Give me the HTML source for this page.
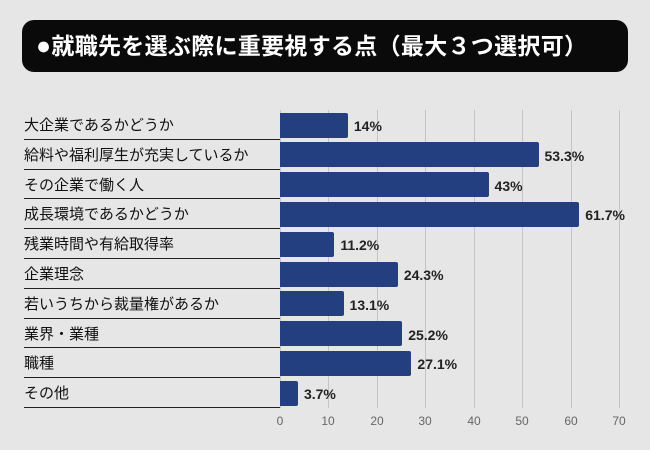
<!DOCTYPE html><html><head><meta charset="utf-8"><style>
body{margin:0;width:650px;height:450px;background:#e6e6e6;font-family:"Liberation Sans","Noto Sans CJK JP",sans-serif;position:relative;overflow:hidden}
.t{position:absolute;left:22px;top:20px;width:606px;height:52px;background:#0a0a0a;border-radius:12px;color:#fff;font-weight:bold;font-size:23px;line-height:52px;padding-left:14px;box-sizing:border-box;letter-spacing:0.3px}
.t b{font-size:25px}
.g{position:absolute;top:110px;height:298px;width:1px;background:#c4c4c4}
.row{position:absolute;left:24px;width:256px;height:29.8px;border-bottom:1px solid #222;font-size:15px;line-height:33px;color:#111}
.bar{position:absolute;left:280px;height:25px;background:#243f80;border-radius:0 2px 2px 0}
.v{position:absolute;font-size:14px;color:#222;line-height:27px;font-weight:600}
.tk{position:absolute;top:414px;font-size:12px;color:#666;width:30px;text-align:center;margin-left:-15px}
</style></head><body>
<div class="t"><b>●</b>就職先を選ぶ際に重要視する点（最大３つ選択可）</div>
<div class="g" style="left:280px"></div><div class="g" style="left:328px"></div><div class="g" style="left:377px"></div><div class="g" style="left:425px"></div><div class="g" style="left:474px"></div><div class="g" style="left:522px"></div><div class="g" style="left:571px"></div><div class="g" style="left:619px"></div>
<div class="tk" style="left:280px">0</div><div class="tk" style="left:328px">10</div><div class="tk" style="left:377px">20</div><div class="tk" style="left:425px">30</div><div class="tk" style="left:474px">40</div><div class="tk" style="left:522px">50</div><div class="tk" style="left:571px">60</div><div class="tk" style="left:619px">70</div>
<div id="c"></div>
<script>
var d=[["大企業であるかどうか",14,"14%"],["給料や福利厚生が充実しているか",53.3,"53.3%"],["その企業で働く人",43,"43%"],["成長環境であるかどうか",61.7,"61.7%"],["残業時間や有給取得率",11.2,"11.2%"],["企業理念",24.3,"24.3%"],["若いうちから裁量権があるか",13.1,"13.1%"],["業界・業種",25.2,"25.2%"],["職種",27.1,"27.1%"],["その他",3.7,"3.7%"]];
var h="";d.forEach(function(r,i){var y=109+i*29.8;var w=r[1]*4.85;
h+='<div class="row" style="top:'+y+'px">'+r[0]+'</div><div class="bar" style="top:'+(y+3.5)+'px;width:'+w+'px"></div><div class="v" style="top:'+(y+4)+'px;left:'+(286+w)+'px">'+r[2]+'</div>';});
document.getElementById("c").innerHTML=h;
</script></body></html>
